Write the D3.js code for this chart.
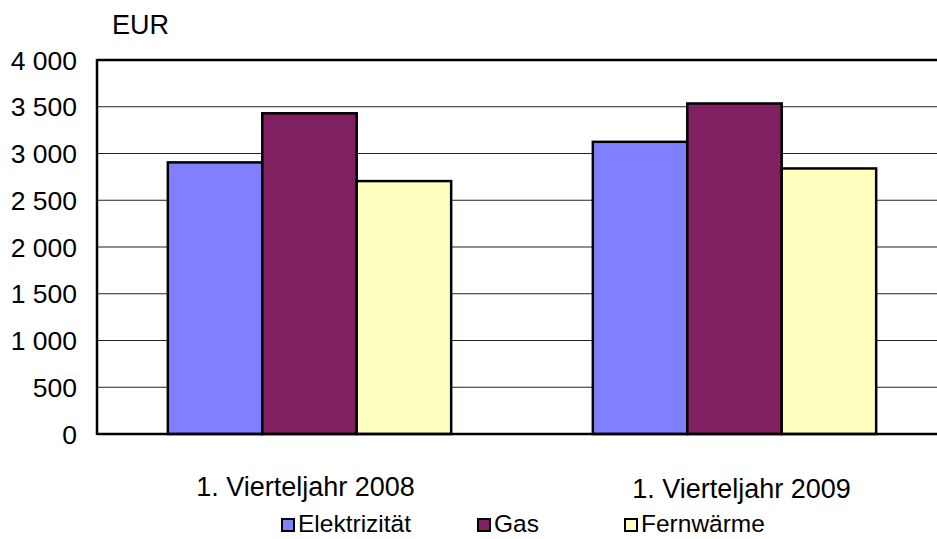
<!DOCTYPE html>
<html>
<head>
<meta charset="utf-8">
<script src="https://cdn.jsdelivr.net/npm/d3@7"></script>
<style>
  body { margin: 0; background: #fff; }
  svg text { font-family: "Liberation Sans", Arial, sans-serif; fill: #000; }
</style>
</head>
<body>
<svg width="937" height="539"></svg>
<script>
// data
const quarters = ["1. Vierteljahr 2008", "1. Vierteljahr 2009"];
const series = ["Elektrizität", "Gas", "Fernwärme"];
const elektrizitaet = [2905, 3125];
const gas = [3430, 3535];
const fernwaerme = [2705, 2840];
const yTicks = [0, 500, 1000, 1500, 2000, 2500, 3000, 3500, 4000];
const colors = ["#8080ff", "#802060", "#ffffc0"];

const svg = d3.select("svg");
const plotL = 97, plotR = 947, plotT = 60, plotB = 434;

const x0 = d3.scaleBand().domain(quarters).range([plotL, plotR]);
const x1 = d3.scaleBand().domain(series).range([0, x0.bandwidth()]).paddingOuter(0.75);
const y = d3.scaleLinear().domain([0, 4000]).range([plotB, plotT]);

const values = { "Elektrizität": elektrizitaet, "Gas": gas, "Fernwärme": fernwaerme };

// gridlines
svg.append("g")
  .selectAll("line")
  .data(yTicks.slice(1))
  .enter().append("line")
  .attr("x1", plotL).attr("x2", plotR)
  .attr("y1", d => y(d)).attr("y2", d => y(d))
  .attr("stroke", d => d == 4000 ? "#000" : "#222")
  .attr("stroke-width", d => d == 4000 ? 2.5 : 1.2);

// bars
const groups = svg.append("g")
  .selectAll("g")
  .data(quarters)
  .enter().append("g")
  .attr("transform", d => "translate(" + x0(d) + ",0)");

groups.selectAll("rect")
  .data((q, i) => series.map((s, j) => ({ s: s, v: values[s][i], c: colors[j] })))
  .enter().append("rect")
  .attr("x", d => x1(d.s))
  .attr("width", x1.bandwidth())
  .attr("y", d => y(d.v))
  .attr("height", d => y(0) - y(d.v))
  .attr("fill", d => d.c)
  .attr("stroke", "#000")
  .attr("stroke-width", 2.5);

// axes
svg.append("line")
  .attr("x1", plotL).attr("x2", plotL).attr("y1", plotT - 1).attr("y2", plotB + 1)
  .attr("stroke", "#000").attr("stroke-width", 2.5);
svg.append("line")
  .attr("x1", plotL).attr("x2", plotR).attr("y1", plotB).attr("y2", plotB)
  .attr("stroke", "#000").attr("stroke-width", 2.5);

// y tick labels
svg.append("g")
  .selectAll("text")
  .data(yTicks)
  .enter().append("text")
  .attr("x", 77)
  .attr("y", d => y(d))
  .attr("dy", "0.36em")
  .attr("text-anchor", "end")
  .style("font-size", "26.5px")
  .text(d => d3.format(",")(d).replace(",", " "));

svg.append("text")
  .attr("x", 112).attr("y", 34)
  .style("font-size", "27px")
  .text("EUR");

// category labels
svg.append("g")
  .selectAll("text")
  .data(quarters)
  .enter().append("text")
  .attr("x", (d, i) => x0(d) + x0.bandwidth() / 2 + (i ? 7 : -4))
  .attr("y", (d, i) => 496 + i * 2)
  .attr("text-anchor", "middle")
  .style("font-size", "27px")
  .text(d => d);

// legend
const legX = [281, 477, 624];
const leg = svg.append("g")
  .selectAll("g")
  .data(series)
  .enter().append("g")
  .attr("transform", (d, i) => "translate(" + legX[i] + ",518)");
leg.append("rect")
  .attr("x", 1).attr("y", 1).attr("width", 12).attr("height", 12)
  .attr("fill", (d, i) => colors[i])
  .attr("stroke", "#000").attr("stroke-width", 2);
leg.append("text")
  .attr("x", 17).attr("y", 14)
  .style("font-size", "24.5px")
  .text(d => d);
</script>
</body>
</html>
